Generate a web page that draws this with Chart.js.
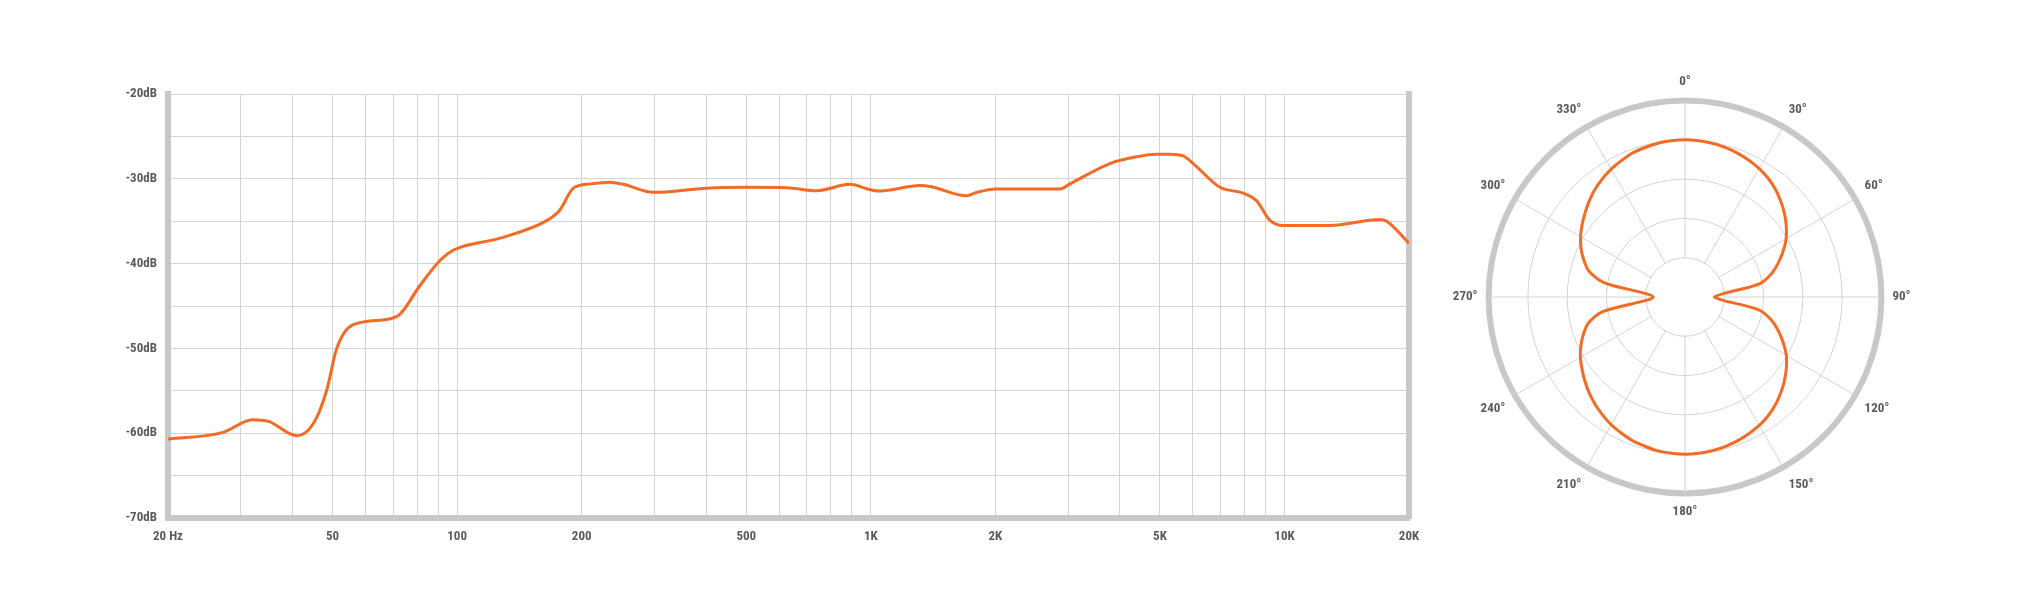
<!DOCTYPE html>
<html>
<head>
<meta charset="utf-8">
<script src="https://cdn.jsdelivr.net/npm/chart.js@4.4.1/dist/chart.umd.min.js"></script>
<style>
  html, body { margin: 0; padding: 0; background: #fff; }
  body { width: 2030px; height: 612px; position: relative; overflow: hidden; }
  #freqWrap { position: absolute; left: 0; top: 0; width: 1440px; height: 612px; }
  #polarWrap { position: absolute; left: 1415px; top: 75px; width: 540px; height: 446px; }
</style>
</head>
<body>
<div id="freqWrap"><canvas id="freqchart"></canvas></div>
<div id="polarWrap"><canvas id="polarchart"></canvas></div>
<script>
// frequency response (Hz / dB)
const freqHz = [20, 27.2, 32, 35, 41, 45, 48.4, 51, 54, 59, 69, 73, 81, 91, 98, 127, 165, 177, 191, 210, 234, 252, 298, 401, 501, 626, 740, 890, 1000, 1052, 1315, 1390, 1705, 1803, 2014, 2865, 3030, 3785, 4392, 4900, 5284, 5690, 6015, 6981, 7949, 8565, 9224, 9930, 12880, 17000, 17660, 20000];
const freqDb = [-60.7, -59.9, -58.4, -58.6, -60.3, -58.8, -54.9, -50.2, -47.8, -46.9, -46.5, -45.9, -42.7, -39.6, -38.4, -37.0, -34.9, -33.7, -31.1, -30.6, -30.4, -30.65, -31.6, -31.1, -31.0, -31.05, -31.4, -30.65, -31.3, -31.45, -30.8, -30.9, -32.0, -31.6, -31.2, -31.2, -30.6, -28.2, -27.4, -27.1, -27.1, -27.3, -28.2, -31.0, -31.7, -32.6, -34.9, -35.5, -35.5, -34.8, -35.0, -37.6];

const freqGrid = [20, 30, 40, 50, 60, 70, 80, 90, 100, 200, 300, 400, 500, 600, 700, 800, 900, 1000, 2000, 3000, 4000, 5000, 6000, 7000, 8000, 9000, 10000, 20000];
const freqLabelValues = [20, 50, 100, 200, 500, 1000, 2000, 5000, 10000, 20000];
const freqLabelText = ['20 Hz', '50', '100', '200', '500', '1K', '2K', '5K', '10K', '20K'];

// polar pattern, every 5 degrees, dB
const polarAngles = [0, 5, 10, 15, 20, 25, 30, 35, 40, 45, 50, 55, 60, 65, 70, 75, 80, 85, 90, 95, 100, 105, 110, 115, 120, 125, 130, 135, 140, 145, 150, 155, 160, 165, 170, 175, 180, 185, 190, 195, 200, 205, 210, 215, 220, 225, 230, 235, 240, 245, 250, 255, 260, 265, 270, 275, 280, 285, 290, 295, 300, 305, 310, 315, 320, 325, 330, 335, 340, 345, 350, 355];
const polarDb = [
  -4.99, -5.03, -5.13, -5.29, -5.51, -5.79, -6.12, -6.55, -7.10, -7.76, -8.47, -9.26,
  -10.13, -11.22, -12.38, -13.64, -15.39, -20.11, -21.27, -20.1, -15.4, -13.6, -12.35, -11.2,
  -10.1, -9.25, -8.47, -7.76, -7.10, -6.55, -6.12, -5.79, -5.51, -5.29, -5.13, -5.03,
  -4.99, -5.04, -5.11, -5.33, -5.53, -5.87, -6.22, -6.69, -7.19, -7.75, -8.36, -9.0,
  -9.62, -10.38, -11.25, -12.30, -14.44, -20.01, -20.97, -20.0, -14.6, -12.35, -11.3, -10.4,
  -9.65, -9.0, -8.38, -7.75, -7.15, -6.65, -6.2, -5.85, -5.5, -5.3, -5.12, -5.03
];
const polarInnerDb = -20;

const labelFont = { family: "'Roboto Condensed', 'Liberation Sans Narrow', 'Liberation Sans', sans-serif", size: 13, weight: 'bold' };
const labelColor = '#5b5b5b';
const gridColor = '#d3d3d3';
const frameColor = '#c8c8c8';
const curveColor = '#f36b24';

new Chart(document.getElementById('freqchart'), {
  type: 'line',
  data: {
    datasets: [
      {
        data: freqHz.map((f, i) => ({ x: f, y: freqDb[i] })),
        borderColor: curveColor,
        borderWidth: 3,
        pointRadius: 0,
        fill: false,
        cubicInterpolationMode: 'monotone',
      }
    ]
  },
  options: {
    responsive: true,
    maintainAspectRatio: false,
    animation: false,
    layout: { padding: { left: 0, top: 94, right: 30, bottom: 54 } },
    plugins: { legend: { display: false }, tooltip: { enabled: false } },
    scales: {
      x: {
        type: 'logarithmic',
        min: 20,
        max: 20000,
        afterBuildTicks: (s) => { s.ticks = freqGrid.map(v => ({ value: v })); },
        afterFit: (s) => { s.height = 40; },
        ticks: {
          autoSkip: false,
          maxRotation: 0,
          padding: 11,
          font: labelFont,
          color: labelColor,
          callback: (v) => {
            const k = freqLabelValues.indexOf(v);
            return k >= 0 ? freqLabelText[k] : '';
          }
        },
        grid: { color: gridColor, lineWidth: 1, drawTicks: false },
        border: { color: frameColor, width: 6 }
      },
      y: {
        min: -70,
        max: -20,
        afterFit: (s) => { s.width = 168; },
        ticks: {
          stepSize: 5,
          padding: 11,
          font: labelFont,
          color: labelColor,
          callback: (v) => (v % 10 === 0 ? v + 'dB' : '')
        },
        grid: { color: gridColor, lineWidth: 1, drawTicks: false },
        border: { color: frameColor, width: 6 }
      },
      y2: {
        position: 'right',
        display: true,
        min: -70,
        max: -20,
        afterFit: (s) => { s.width = 1; },
        ticks: { display: false },
        grid: { display: false, drawTicks: false },
        border: { color: frameColor, width: 6 }
      }
    }
  }
});

// keeps the middle of the polar plot clear, as in the original
const innerHole = {
  id: 'innerHole',
  beforeDatasetsDraw(chart) {
    const r = chart.scales.r;
    const ctx = chart.ctx;
    const rad = r.getDistanceFromCenterForValue(polarInnerDb) - 1;
    ctx.save();
    ctx.beginPath();
    ctx.arc(r.xCenter, r.yCenter, rad, 0, Math.PI * 2);
    ctx.fillStyle = '#fff';
    ctx.fill();
    ctx.restore();
  }
};

new Chart(document.getElementById('polarchart'), {
  type: 'radar',
  data: {
    labels: polarAngles,
    datasets: [
      {
        data: polarDb,
        borderColor: curveColor,
        borderWidth: 3,
        pointRadius: 0,
        fill: false,
        tension: 0.3,
      }
    ]
  },
  options: {
    responsive: true,
    maintainAspectRatio: false,
    animation: false,
    plugins: { legend: { display: false }, tooltip: { enabled: false } },
    scales: {
      r: {
        min: -25,
        max: 0,
        ticks: { display: false, stepSize: 5 },
        grid: {
          circular: true,
          color: (c) => (c.tick && c.tick.value === 0 ? frameColor : gridColor),
          lineWidth: (c) => (c.tick && c.tick.value === 0 ? 6 : 1)
        },
        angleLines: {
          color: gridColor,
          lineWidth: (c) => (polarAngles[c.index] % 30 === 0 ? 1 : 0)
        },
        pointLabels: {
          padding: 11,
          font: labelFont,
          color: labelColor,
          callback: (label, i) => (polarAngles[i] % 30 === 0 ? polarAngles[i] + '°' : '')
        }
      }
    }
  },
  plugins: [innerHole]
});
</script>
</body>
</html>
